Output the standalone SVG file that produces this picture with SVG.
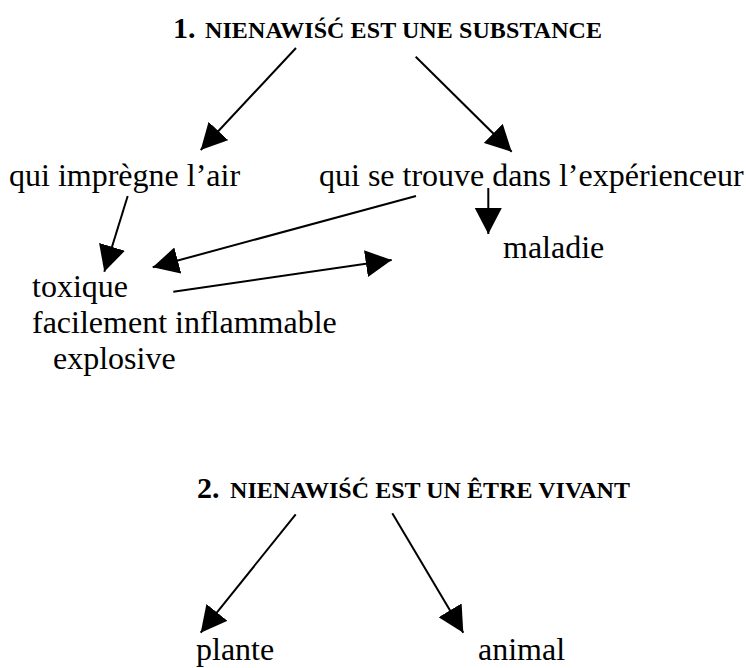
<svg xmlns="http://www.w3.org/2000/svg" width="746" height="668" viewBox="0 0 746 668">
<style>
text{font-family:"Liberation Serif","Times New Roman",serif;fill:#000}
.t{font-size:32px}
.h{font-weight:bold}
.hn{font-size:30px}
.hc{font-size:24px}
.c line{stroke:#000;stroke-width:2;marker-end:url(#ah)}
</style>
<defs>
<marker id="ah" markerUnits="userSpaceOnUse" markerWidth="26" markerHeight="27" refX="26" refY="13.5" orient="auto">
<path d="M0,0 L26,13.5 L0,27 z" fill="#000"/>
</marker>
</defs>
<rect width="746" height="668" fill="#fff"/>
<g id="title1"><text class="h" y="38"><tspan class="hn" x="173">1.</tspan><tspan class="hc" x="205" textLength="397" lengthAdjust="spacing">NIENAWIŚĆ EST UNE SUBSTANCE</tspan></text></g>
<g id="impregne"><text class="t" x="9" y="186">qui imprègne l’air</text></g>
<g id="trouve"><text class="t" x="319" y="186">qui se trouve dans l’expérienceur</text></g>
<g id="maladie"><text class="t" x="503" y="258">maladie</text></g>
<g id="toxique"><text class="t" x="32" y="297">toxique</text><text class="t" x="32" y="333">facilement inflammable</text><text class="t" x="53" y="369">explosive</text></g>
<g id="title2"><text class="h" y="498"><tspan class="hn" x="197">2.</tspan><tspan class="hc" x="230" textLength="400" lengthAdjust="spacing">NIENAWIŚĆ EST UN ÊTRE VIVANT</tspan></text></g>
<g id="plante"><text class="t" x="196" y="660">plante</text></g>
<g id="animal"><text class="t" x="478" y="660">animal</text></g>
<g class="c" id="connectors">
<line x1="296" y1="48" x2="200.7" y2="150"/>
<line x1="415.7" y1="56.7" x2="511.7" y2="151.7"/>
<line x1="127.7" y1="196" x2="104.3" y2="271.7"/>
<line x1="416" y1="196" x2="152.7" y2="267.3"/>
<line x1="173.3" y1="291.7" x2="391.7" y2="260"/>
<line x1="488.3" y1="188" x2="488.3" y2="234"/>
<line x1="295.7" y1="514.3" x2="200.7" y2="632.7"/>
<line x1="392.3" y1="513.3" x2="463.3" y2="632.7"/>
</g>
</svg>
